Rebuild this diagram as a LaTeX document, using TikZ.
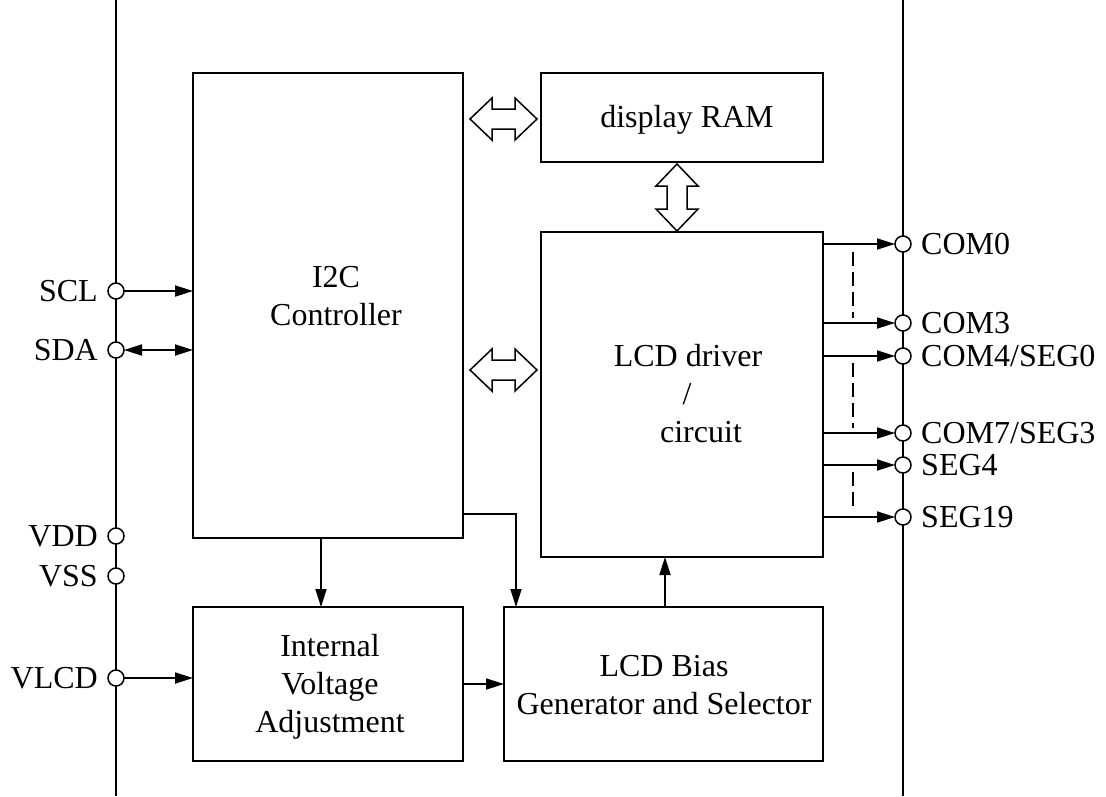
\documentclass[tikz,border=0pt]{standalone}
\usepackage{fontspec}
\setmainfont{Liberation Serif}
\usetikzlibrary{arrows.meta}
\tikzset{
  ln/.style={line width=1.8pt},
  box/.style={draw, line width=1.8pt, inner sep=0pt, outer sep=0pt, anchor=north west},
  txt/.style={font=\fontsize{32}{38}\selectfont, inner sep=0pt, text height=21pt, text depth=0pt},
  pin/.style={circle, draw, fill=white, line width=1.5pt, minimum size=16pt, inner sep=0pt, outer sep=0pt},
  arr/.style={line width=1.8pt, -{Triangle[length=18pt,width=11pt]}},
  darr/.style={line width=1.8pt, {Triangle[length=18pt,width=11pt]}-{Triangle[length=18pt,width=11pt]}},
  hollow/.style={draw, line width=1.5pt, fill=white, line join=miter},
  dsh/.style={line width=1.6pt, dash pattern=on 14pt off 6pt}
}
\newcommand\hollowarrowH[3]{%
  \draw[hollow] (#1,#3) -- ++(22,-21) -- ++(0,11) -- ({#2-22},{#3-10}) -- ++(0,-11) -- (#2,#3)
    -- ++(-22,21) -- ++(0,-11) -- ({#1+22},{#3+10}) -- ++(0,11) -- cycle;}
\newcommand\hollowarrowV[3]{%
  \draw[hollow] (#1,#2) -- ++(21,22) -- ++(-11,0) -- ({#1+10},{#3-22}) -- ++(11,0) -- (#1,#3)
    -- ++(-21,-22) -- ++(11,0) -- ({#1-10},{#2+22}) -- ++(-11,0) -- cycle;}
\begin{document}
\begin{tikzpicture}[x=1pt,y=-1pt]
\useasboundingbox (0,0) rectangle (1106,796);
% outer chip edges
\coordinate (lt) at (116,0); \coordinate (lb) at (116,796);
\coordinate (rt) at (903,0); \coordinate (rb) at (903,796);
\draw[ln] (lt) -- (lb);
\draw[ln] (rt) -- (rb);

% boxes
\node[box, minimum width=270pt, minimum height=465pt] (i2c) at (193,73) {};
\node[box, minimum width=282pt, minimum height=89pt] (ram) at (541,73) {};
\node[box, minimum width=282pt, minimum height=325pt] (lcd) at (541,232) {};
\node[box, minimum width=270pt, minimum height=154pt] (ivs) at (193,607) {};
\node[box, minimum width=319pt, minimum height=154pt] (bias) at (504,607) {};

% box texts
\node[txt] (t1) at (336,277) {I2C};
\node[txt] (t2) at (336,315) {Controller};
\node[txt] (t3) at (687,117) {display RAM};
\node[txt] (t4) at (688,356) {LCD driver};
\node[txt] (t5) at (687,394) {/};
\node[txt] (t6) at (701,432) {circuit};
\node[txt] (t7) at (330,646) {Internal};
\node[txt] (t8) at (330,684) {Voltage};
\node[txt] (t9) at (330,722) {Adjustment};
\node[txt] (t10) at (664,666) {LCD Bias};
\node[txt] (t11) at (664,704) {Generator and Selector};

% left pins
\node[pin] (scl) at (116,291) {};
\node[pin] (sda) at (116,350) {};
\node[pin] (vdd) at (116,536) {};
\node[pin] (vss) at (116,576) {};
\node[pin] (vlcd) at (116,678) {};
\node[txt, anchor=east] (lscl) at (98,291) {SCL};
\node[txt, anchor=east] (lsda) at (98,350) {SDA};
\node[txt, anchor=east] (lvdd) at (98,536) {VDD};
\node[txt, anchor=east] (lvss) at (98,576) {VSS};
\node[txt, anchor=east] (lvlcd) at (98,678) {VLCD};

% right pins
\node[pin] (c0) at (903,244) {};
\node[pin] (c3) at (903,323) {};
\node[pin] (c4) at (903,356) {};
\node[pin] (c7) at (903,433) {};
\node[pin] (s4) at (903,465) {};
\node[pin] (s19) at (903,517) {};
\node[txt, anchor=west] (lc0) at (921,244) {COM0};
\node[txt, anchor=west] (lc3) at (921,323) {COM3};
\node[txt, anchor=west] (lc4) at (921,356) {COM4/SEG0};
\node[txt, anchor=west] (lc7) at (921,433) {COM7/SEG3};
\node[txt, anchor=west] (ls4) at (921,465) {SEG4};
\node[txt, anchor=west] (ls19) at (921,517) {SEG19};

% left connectors
\draw[arr] (scl) -- (scl -| i2c.west);
\draw[darr] (sda) -- (sda -| i2c.west);
\draw[arr] (vlcd) -- (vlcd -| ivs.west);

% right connectors
\foreach \p in {c0,c3,c4,c7,s4,s19}
  \draw[arr] (lcd.east |- \p) -- (\p);

% dashed continuation marks
\coordinate (d1a) at (853,252); \coordinate (d1b) at (853,318);
\coordinate (d2a) at (853,363); \coordinate (d2b) at (853,428);
\coordinate (d3a) at (853,472); \coordinate (d3b) at (853,512);
\draw[dsh] (d1a) -- (d1b);
\draw[dsh] (d2a) -- (d2b);
\draw[dsh] (d3a) -- (d3b);

% internal connectors
\coordinate (i2cdown) at (321,538);
\draw[arr] (i2cdown) -- (i2cdown |- ivs.north);
\coordinate (i2cr) at (463,514);
\coordinate (biasin) at (516,607);
\draw[arr] (i2cr) -| (biasin);
\coordinate (ivsr) at (463,684);
\draw[arr] (ivsr) -- (ivsr -| bias.west);
\coordinate (biasup) at (665,607);
\draw[arr] (biasup) -- (biasup |- lcd.south);

% hollow bus arrows
\hollowarrowH{470}{537}{119}
\hollowarrowH{470}{537}{370}
\hollowarrowV{677}{164}{231}
\end{tikzpicture}
\end{document}
